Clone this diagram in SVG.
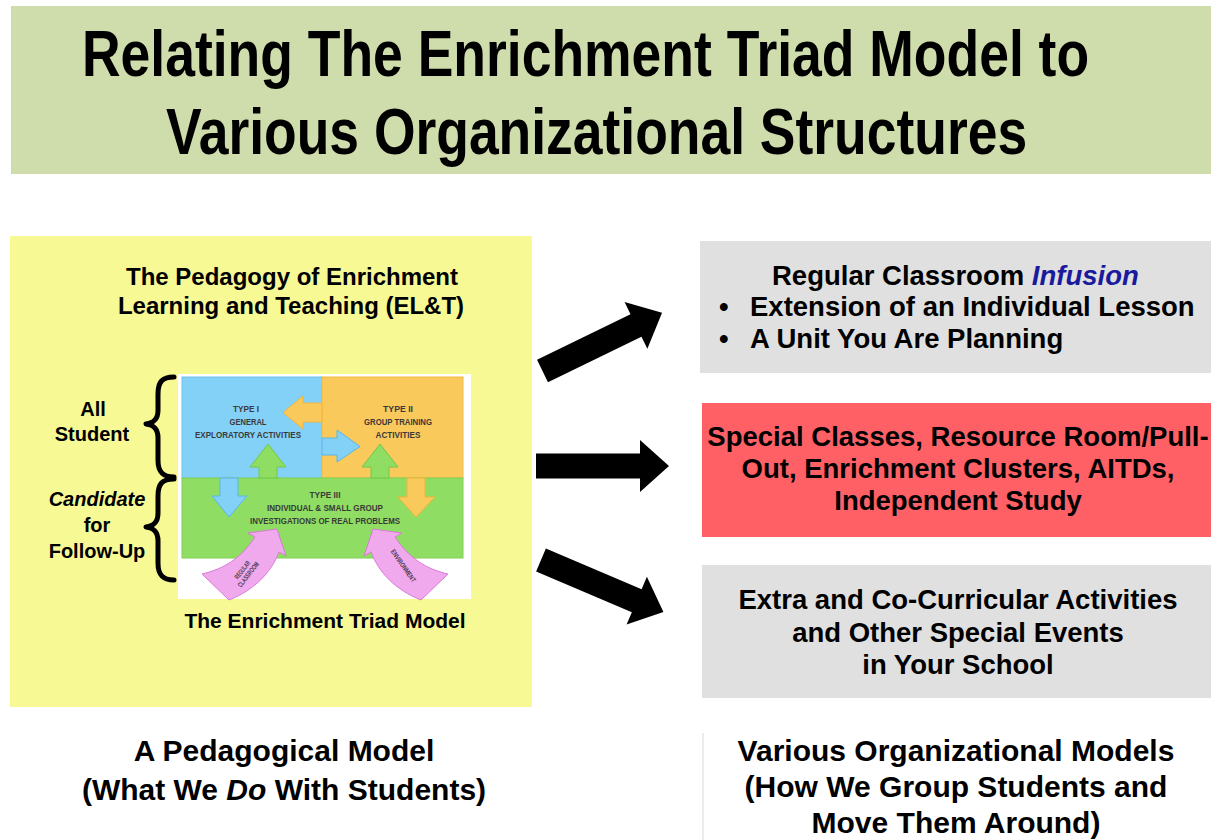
<svg xmlns="http://www.w3.org/2000/svg" xmlns:xlink="http://www.w3.org/1999/xlink" width="1211" height="840" viewBox="0 0 1211 840">
<defs>
<style>
.t{font-family:"Liberation Sans",Arial,sans-serif;font-weight:bold;fill:#000}
.c{text-anchor:middle}
.h{font-size:24px}
.side{font-size:20px}
.box{font-size:27.5px}
.cap{font-size:30px}
.tri{font-family:"Liberation Sans Narrow","Liberation Sans",Arial,sans-serif;font-weight:bold;font-size:9.5px;fill:#3a3a3a;text-anchor:middle}
.pink{font-family:"Liberation Sans Narrow","Liberation Sans",Arial,sans-serif;font-weight:bold;font-size:7px;fill:#4a3a4a;text-anchor:middle}
.brace{fill:none;stroke:#000;stroke-width:5;stroke-linecap:round;stroke-linejoin:round}
.blk{fill:#000}
.pk{fill:#f1a9ed;stroke:#d77bd6;stroke-width:1}
</style>
<path id="blockArrow" d="M0,-12.5 L104,-12.5 L104,-26 L133,0 L104,26 L104,12.5 L0,12.5 Z"/>
</defs>
<rect width="1211" height="840" fill="#fff"/>

<g id="title">
<rect x="11" y="6" width="1200" height="168" fill="#cfdcab"/>
<text class="t" transform="translate(82,76) scale(0.833,1)" x="0" y="0" font-size="64" textLength="1209" lengthAdjust="spacingAndGlyphs">Relating The Enrichment Triad Model to</text>
<text class="t" transform="translate(166,154) scale(0.832,1)" x="0" y="0" font-size="64" textLength="1035" lengthAdjust="spacingAndGlyphs">Various Organizational Structures</text>
</g>

<g id="pedagogy-panel">
<rect x="10" y="236" width="522" height="471" fill="#f7f995"/>
<text class="t c h" x="292" y="285">The Pedagogy of Enrichment</text>
<text class="t c h" x="291" y="314">Learning and Teaching (EL&amp;T)</text>
<text class="t c" x="325" y="628" font-size="21">The Enrichment Triad Model</text>
</g>

<g id="triad-model">
<rect x="178" y="374" width="293" height="225" fill="#fff"/>
<rect x="182" y="377" width="140" height="101" fill="#84d1f7" stroke="#6cc3ef" stroke-width="1"/>
<rect x="322" y="377" width="141" height="101" fill="#f9c95c" stroke="#f2b943" stroke-width="1"/>
<rect x="182" y="478" width="281" height="80" fill="#8fdd62" stroke="#7fd052" stroke-width="1"/>
<path d="M322,403 L303,403 L303,396 L283,412.5 L303,429 L303,422 L322,422 Z" fill="#f9c95c" stroke="#f0b53a" stroke-width="1"/>
<path d="M322,438 L337,438 L337,430 L360,446.5 L337,462 L337,455 L322,455 Z" fill="#84d1f7" stroke="#5ab6e6" stroke-width="1"/>
<path d="M259,478 L259,467 L250,467 L268,444 L286,467 L277,467 L277,478 Z" fill="#8fdd62" stroke="#72c84c" stroke-width="1"/>
<path d="M371,478 L371,467 L362,467 L380,444 L398,467 L389,467 L389,478 Z" fill="#8fdd62" stroke="#72c84c" stroke-width="1"/>
<path d="M220,478 L220,496 L212,496 L229,517 L247,496 L238,496 L238,478 Z" fill="#84d1f7" stroke="#5ab6e6" stroke-width="1"/>
<path d="M407,478 L407,497 L398,497 L416,517 L435,497 L425,497 L425,478 Z" fill="#f9c95c" stroke="#f0b53a" stroke-width="1"/>
<text class="tri" x="246" y="412" textLength="26" lengthAdjust="spacingAndGlyphs">TYPE I</text>
<text class="tri" x="248" y="425" textLength="37" lengthAdjust="spacingAndGlyphs">GENERAL</text>
<text class="tri" x="248" y="438" textLength="106" lengthAdjust="spacingAndGlyphs">EXPLORATORY ACTIVITIES</text>
<text class="tri" x="398" y="412" textLength="30" lengthAdjust="spacingAndGlyphs">TYPE II</text>
<text class="tri" x="398" y="425" textLength="68" lengthAdjust="spacingAndGlyphs">GROUP TRAINING</text>
<text class="tri" x="398" y="438" textLength="45" lengthAdjust="spacingAndGlyphs">ACTIVITIES</text>
<text class="tri" x="325" y="498" textLength="31" lengthAdjust="spacingAndGlyphs">TYPE III</text>
<text class="tri" x="325" y="511" textLength="116" lengthAdjust="spacingAndGlyphs">INDIVIDUAL &amp; SMALL GROUP</text>
<text class="tri" x="325" y="524" textLength="150" lengthAdjust="spacingAndGlyphs">INVESTIGATIONS OF REAL PROBLEMS</text>
<path class="pk" d="M255,537 C241,558 224,569 202,574 L229,600 C254,590 271,573 279,552 L286,556 L277,529 L248,533 Z"/>
<path class="pk" transform="translate(650,0) scale(-1,1)" d="M255,537 C241,558 224,569 202,574 L229,600 C254,590 271,573 279,552 L286,556 L277,529 L248,533 Z"/>
<g transform="translate(245,572) rotate(-52)">
<text class="pink" x="0" y="-1" textLength="21" lengthAdjust="spacingAndGlyphs">REGULAR</text>
<text class="pink" x="0" y="6.5" textLength="30" lengthAdjust="spacingAndGlyphs">CLASSROOM</text>
</g>
<g transform="translate(403,566) rotate(55)">
<text class="pink" x="0" y="2" textLength="38" lengthAdjust="spacingAndGlyphs">ENVIRONMENT</text>
</g>
</g>

<g id="brace-labels">
<path class="brace" d="M174,377 C162,377 158,382 158,394 L158,410 C158,419 154,423 146,424 C154,425 158,429 158,438 L158,460 C158,471 162,477 174,477"/>
<path class="brace" d="M174,479 C162,479 158,484 158,496 L158,513 C158,522 154,526 146,527 C154,528 158,532 158,541 L158,563 C158,574 162,580 174,580"/>
<text class="t c side" x="93" y="416">All</text>
<text class="t c side" x="92" y="441">Student</text>
<text class="t c side" x="97" y="506" font-style="italic">Candidate</text>
<text class="t c side" x="97" y="532">for</text>
<text class="t c side" x="97" y="558">Follow-Up</text>
</g>

<g id="box-infusion">
<rect x="700" y="241" width="511" height="132" fill="#e0e0e0"/>
<text class="t box" x="772" y="285">Regular Classroom <tspan font-style="italic" fill="#1a1a9c">Infusion</tspan></text>
<text class="t box" x="719" y="316">•</text>
<text class="t box" x="750" y="316">Extension of an Individual Lesson</text>
<text class="t box" x="719" y="348">•</text>
<text class="t box" x="750" y="348">A Unit You Are Planning</text>
</g>

<g id="box-special">
<rect x="702" y="403" width="509" height="134" fill="#ff6065"/>
<text class="t c box" x="958" y="446">Special Classes, Resource Room/Pull-</text>
<text class="t c box" x="958" y="478">Out, Enrichment Clusters, AITDs,</text>
<text class="t c box" x="958" y="510">Independent Study</text>
</g>

<g id="box-extra">
<rect x="702" y="565" width="509" height="133" fill="#e0e0e0"/>
<text class="t c box" x="958" y="609">Extra and Co-Curricular Activities</text>
<text class="t c box" x="958" y="642">and Other Special Events</text>
<text class="t c box" x="958" y="674">in Your School</text>
</g>

<g id="caption-left">
<text class="t c cap" x="284" y="761">A Pedagogical Model</text>
<text class="t c cap" x="284" y="800">(What We <tspan font-style="italic">Do</tspan> With Students)</text>
</g>

<g id="caption-right">
<line x1="703" y1="733" x2="703" y2="840" stroke="#d8d8d8" stroke-width="1"/>
<text class="t c cap" x="956" y="761">Various Organizational Models</text>
<text class="t c cap" x="956" y="797">(How We Group Students and</text>
<text class="t c cap" x="956" y="833">Move Them Around)</text>
</g>

<g id="connectors">
<use xlink:href="#blockArrow" class="blk" transform="translate(542.5,371) rotate(-26)"/>
<use xlink:href="#blockArrow" class="blk" transform="translate(536,466)"/>
<use xlink:href="#blockArrow" class="blk" transform="translate(541,560) rotate(23)"/>
</g>
</svg>
